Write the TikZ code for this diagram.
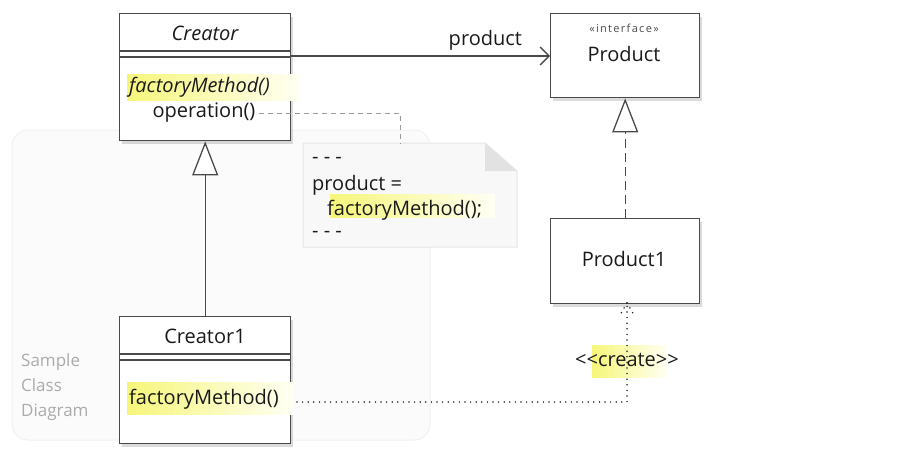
\documentclass[tikz,border=0pt]{standalone}
\usepackage{fontspec}
\setmainfont{Open Sans}
\usetikzlibrary{arrows.meta,shadows}
\definecolor{bordc}{HTML}{4A4A4A}
\definecolor{panelfill}{HTML}{FBFBFB}
\definecolor{paneldraw}{HTML}{F0F0F0}
\definecolor{notefill}{HTML}{F8F8F8}
\definecolor{notedraw}{HTML}{E6E6E6}
\definecolor{foldc}{HTML}{E2E2E2}
\definecolor{hl}{HTML}{F6F67A}
\definecolor{hlend}{HTML}{FFFFF4}
\definecolor{dashc}{HTML}{9A9A9A}
\definecolor{labgray}{HTML}{ABABAB}
\definecolor{txt}{HTML}{1A1A1A}
\tikzset{
  classbox/.style={draw=bordc, line width=1.4pt, fill=white, inner sep=0pt, anchor=north west,
    drop shadow={shadow xshift=2pt, shadow yshift=-3pt, opacity=0.14, fill=black}},
  divider/.style={draw=bordc, line width=1.1pt},
  hlbox/.style={left color=hl, right color=hlend, draw=none},
  txtnode/.style={inner sep=0pt, text=txt, font=\fontsize{20}{24}\selectfont},
  conn/.style={draw=bordc, line width=1.3pt},
  dashconn/.style={draw=dashc, line width=1pt, dash pattern=on 5pt off 4pt},
  dotconn/.style={draw=black!85, line width=1.7pt, line cap=round, dash pattern=on 0pt off 5.6pt},
}
\begin{document}
\begin{tikzpicture}[x=1pt,y=-1pt]
\useasboundingbox (0,0) rectangle (908,453);
% background panel
\draw[rounded corners=16pt, fill=panelfill, draw=paneldraw, line width=1pt] (12,130) rectangle (430,440);
\node[txtnode, anchor=west, text=labgray, font=\fontsize{17}{25}\selectfont, align=left] (caption) at (21,387)
  {Sample\\Class\\Diagram};

% note
\path[fill=notefill, draw=notedraw, line width=1pt] (303,143) -- (485,143) -- (517,171) -- (517,247) -- (303,247) -- cycle;
\path[fill=foldc] (485,143) -- (517,171) -- (485,171) -- cycle;
\coordinate (notetop) at (400,143);
\path[hlbox] (330,194) rectangle (495,217);
\node[txtnode, anchor=west] (n1) at (312,160) {- - -};
\node[txtnode, anchor=west] (n2) at (312,185) {product =};
\node[txtnode, anchor=west] (n3) at (327,210) {factoryMethod();};
\node[txtnode, anchor=west] (n4) at (312,234) {- - -};

% Creator
\node[classbox, minimum width=171pt, minimum height=127pt] (creator) at (119,13) {};
\draw[divider] (119,51) -- (290,51);
\draw[divider] (119,57) -- (290,57);
\path[hlbox] (127,74) rectangle (300,100);
\node[txtnode, font=\fontsize{20}{24}\selectfont\itshape] (cname) at (205,33) {Creator};
\node[txtnode, anchor=west, font=\fontsize{20}{24}\selectfont\itshape] (cfm) at (129,87) {factoryMethod()};
\node[txtnode] (cop) at (204,113) {operation()};

% Creator1
\node[classbox, minimum width=171pt, minimum height=127pt] (creator1) at (119,316) {};
\draw[divider] (119,354) -- (290,354);
\draw[divider] (119,360) -- (290,360);
\path[hlbox] (127,382) rectangle (293,414);
\node[txtnode] (c1name) at (205,336) {Creator1};
\node[txtnode, anchor=west] (c1fm) at (129,399) {factoryMethod()};

% Product
\node[classbox, minimum width=149pt, minimum height=84pt] (product) at (550,13) {};
\node[txtnode, font=\fontsize{11}{13}\selectfont\addfontfeature{LetterSpace=12}, text=black!70] (pster) at (624,28) {«interface»};
\node[txtnode] (pname) at (624,54) {Product};

% Product1
\node[classbox, minimum width=149pt, minimum height=85pt] (product1) at (550,218) {};
\node[txtnode] (p1name) at (624,259) {Product1};

% association
\draw[conn, -{Straight Barb[length=9pt, width=18pt, line width=1.3pt]}] (creator.east |- 0,56) -- (product.west |- 0,56)
  node[pos=0.75, above=5pt, txtnode] (plabel) {product};

% generalization Creator1 -> Creator
\draw[conn, -{Triangle[open, length=34pt, width=26pt, line width=1.3pt, fill=white]}] (creator1.north) -- (creator.south);

% realization Product1 -> Product
\draw[conn, dash pattern=on 9pt off 5pt, -{Triangle[open, length=34pt, width=26pt, line width=1.3pt, fill=white]}] (product1.north) -- (product.south);

% dashed note connector
\draw[dashconn] (cop.east) ++(3pt,0) -- (400,113) -- (notetop);

% create dependency
\coordinate (cend) at (627,303);
\coordinate (cstart) at (297,402);
\path[hlbox] (592,345) rectangle (667,377);
\draw[dotconn] (cstart) -- (627,402) -- (cend);
\draw[dotconn] (cend) -- ++(-7,12);
\draw[dotconn] (cend) -- ++(7,12);
\node[txtnode, fill=none] (clabel) at (627,360) {{<}{<}create{>}{>}};
\end{tikzpicture}
\end{document}
